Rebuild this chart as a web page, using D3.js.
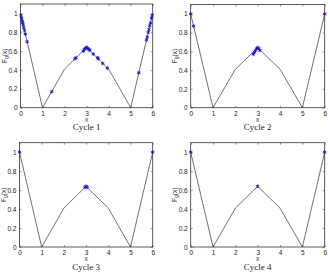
<!DOCTYPE html>
<html>
<head>
<meta charset="utf-8">
<script src="https://cdn.jsdelivr.net/npm/d3@7"></script>
<style>
  body { margin: 0; background: #fff; }
  svg { display: block; }
  .tick text { font-family: "Liberation Sans", Arial, sans-serif; font-size: 6.5px; fill: #222; }
</style>
</head>
<body>
<div id="chart"></div>
<script>
var width = 328,
  height = 276;

// curve values at x = 0..6
var curveX = [0, 1, 2, 3, 4, 5, 6];
var curveY = [1, 0, 0.41, 0.64, 0.41, 0, 1];

var xTicks = [0, 1, 2, 3, 4, 5, 6];
var yTicks = [0, 0.2, 0.4, 0.6, 0.8, 1];

var titles = ["Cycle 1", "Cycle 2", "Cycle 3", "Cycle 4"];

// blue star markers, one list per cycle
var c1X = [0.02, 0.05, 0.08, 0.1, 0.12, 0.15, 0.18, 0.22, 0.3, 1.42, 2.47, 2.52, 2.85, 2.9, 2.95, 3.0, 3.05, 3.1, 3.15, 3.3, 3.5, 3.53, 3.73, 3.94, 5.37, 5.72, 5.75, 5.8, 5.83, 5.87, 5.9, 5.95, 5.98];
var c1Y = [0.98, 0.95, 0.92, 0.9, 0.88, 0.85, 0.82, 0.78, 0.7, 0.17, 0.52, 0.53, 0.6, 0.62, 0.63, 0.64, 0.63, 0.62, 0.61, 0.57, 0.53, 0.52, 0.47, 0.42, 0.37, 0.72, 0.75, 0.8, 0.83, 0.87, 0.9, 0.95, 0.98];
var c2X = [0, 0.13, 2.8, 2.85, 2.9, 2.95, 3.0, 3.05, 3.1, 6];
var c2Y = [1, 0.87, 0.57, 0.59, 0.61, 0.63, 0.64, 0.63, 0.61, 1];
var c3X = [0, 2.95, 3.0, 3.05, 6];
var c3Y = [1, 0.63, 0.64, 0.63, 1];
var c4X = [0, 3, 6];
var c4Y = [1, 0.64, 1];

var markX = [c1X, c2X, c3X, c4X];
var markY = [c1Y, c2Y, c3Y, c4Y];

// plot boxes [left, top, right, bottom]
var boxes = [
  [20.5, 4, 152.7, 107.7],
  [190.7, 4.5, 324.7, 107.7],
  [19.5, 142.7, 152.7, 247],
  [190.7, 142.7, 324.7, 247]
];

var svg = d3.select("#chart")
  .append("svg")
  .attr("width", width)
  .attr("height", height);

boxes.forEach(function (b, i) {
  var x = d3.scaleLinear().domain([0, 6]).range([b[0], b[2]]);
  var y = d3.scaleLinear().domain([0, 1.1]).range([b[3], b[1]]);
  var g = svg.append("g");

  // axes, ticks pointing inward
  g.append("g")
    .attr("transform", "translate(0," + b[3] + ")")
    .call(d3.axisBottom(x).tickValues(xTicks).tickFormat(d3.format("d")).tickSizeInner(-2).tickSizeOuter(0).tickPadding(3.5));
  g.append("g")
    .attr("transform", "translate(" + b[0] + ",0)")
    .call(d3.axisLeft(y).tickValues(yTicks).tickFormat(function (d) { return d === 0 || d === 1 ? d : d3.format(".1f")(d); }).tickSizeInner(-2).tickSizeOuter(0).tickPadding(3));
  g.append("g")
    .attr("transform", "translate(0," + b[1] + ")")
    .call(d3.axisTop(x).tickValues(xTicks).tickFormat("").tickSizeInner(-2).tickSizeOuter(0));
  g.append("g")
    .attr("transform", "translate(" + b[2] + ",0)")
    .call(d3.axisRight(y).tickValues(yTicks).tickFormat("").tickSizeInner(-2).tickSizeOuter(0));

  g.selectAll(".domain").remove();
  g.selectAll(".tick line").attr("stroke", "#555").attr("stroke-width", 0.6);

  g.append("rect")
    .attr("x", b[0])
    .attr("y", b[1])
    .attr("width", b[2] - b[0])
    .attr("height", b[3] - b[1])
    .attr("fill", "none")
    .attr("stroke", "#333")
    .attr("stroke-width", 0.8);

  var line = d3.line()
    .x(function (d) { return x(d[0]); })
    .y(function (d) { return y(d[1]); });

  g.append("path")
    .datum(d3.zip(curveX, curveY))
    .attr("d", line)
    .attr("fill", "none")
    .attr("stroke", "#333")
    .attr("stroke-width", 0.7);

  var sym = d3.symbol().type(d3.symbolAsterisk).size(10);
  g.selectAll("path.mark")
    .data(d3.zip(markX[i], markY[i]))
    .enter().append("path")
    .attr("class", "mark")
    .attr("d", sym)
    .attr("transform", function (d) { return "translate(" + x(d[0]) + "," + y(d[1]) + ")"; })
    .attr("fill", "none")
    .attr("stroke", "#1a1ac8")
    .attr("stroke-width", 0.9);

  var cx = (b[0] + b[2]) / 2;
  // x label
  g.append("text")
    .attr("x", cx)
    .attr("y", b[3] + 14)
    .attr("text-anchor", "middle")
    .style("font-family", "Liberation Sans, Arial, sans-serif")
    .style("font-size", "6.5px")
    .style("fill", "#333")
    .text("x");

  // caption
  g.append("text")
    .attr("x", cx)
    .attr("y", b[3] + 22.5)
    .attr("text-anchor", "middle")
    .style("font-family", "Liberation Serif, Times New Roman, serif")
    .style("font-size", "9px")
    .style("fill", "#222")
    .text(titles[i]);

  // y label F_g(x)
  var yl = g.append("text")
    .attr("transform", "translate(" + (b[0] - 14) + "," + ((b[1] + b[3]) / 2) + ") rotate(-90)")
    .attr("text-anchor", "middle")
    .style("font-family", "Liberation Sans, Arial, sans-serif")
    .style("font-size", "6.5px")
    .style("fill", "#333");
  yl.append("tspan").text("F");
  yl.append("tspan").attr("dy", 1.5).style("font-size", "5px").text("g");
  yl.append("tspan").attr("dy", -1.5).text("(x)");
});
</script>
</body>
</html>
